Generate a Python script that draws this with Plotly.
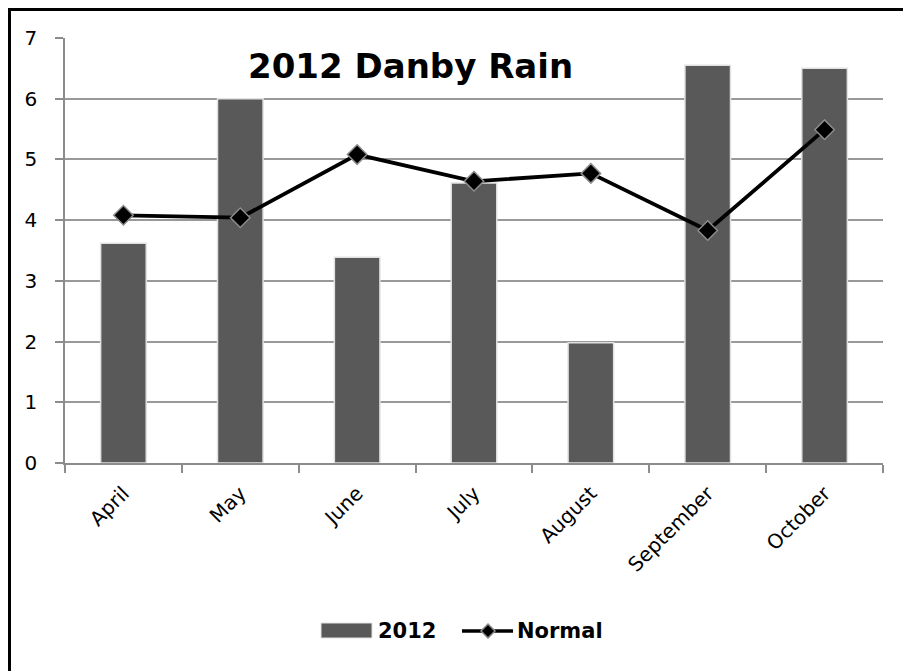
import plotly.graph_objects as go

# Monthly rainfall, inches
months = ["April", "May", "June", "July", "August", "September", "October"]
rain_2012 = [3.62, 6.0, 3.39, 4.61, 1.98, 6.55, 6.50]
rain_normal = [4.08, 4.04, 5.08, 4.64, 4.77, 3.83, 5.49]
y_ticks = [0, 1, 2, 3, 4, 5, 6, 7]

BAR_COLOR = "#595959"
W, H = 903, 671
L, R, T, B = 65, 20, 38, 208
pw, ph = W - L - R, H - T - B


def px_x(p):
    return (p - L) / pw


def px_y(p):
    return (H - B - p) / ph


fig = go.Figure()
fig.add_trace(go.Bar(
    x=months, y=rain_2012, name="2012",
    marker=dict(color=BAR_COLOR, line=dict(color="#e2e2e2", width=1.5)),
))
fig.add_trace(go.Scatter(
    x=months, y=rain_normal, name="Normal", mode="lines+markers",
    line=dict(color="black", width=3.8),
    marker=dict(symbol="diamond", size=15, color="black",
                line=dict(color="#8c8c8c", width=1.5)),
))

# hand-built legend below the plot
leg_y = 631
shapes = [
    dict(type="rect", xref="paper", yref="paper",
         x0=px_x(9.5), x1=px_x(940), y0=px_y(720), y1=px_y(9.5),
         line=dict(color="black", width=3), layer="below"),
    dict(type="rect", xref="paper", yref="paper",
         x0=px_x(321), x1=px_x(372), y0=px_y(638), y1=px_y(623),
         fillcolor=BAR_COLOR, line=dict(color="#e2e2e2", width=1)),
    dict(type="line", xref="paper", yref="paper",
         x0=px_x(462), x1=px_x(513), y0=px_y(leg_y), y1=px_y(leg_y),
         line=dict(color="black", width=3.5)),
]
d = 7
cx = 488
diamond = "M {} {} L {} {} L {} {} L {} {} Z".format(
    px_x(cx), px_y(leg_y - d), px_x(cx + d), px_y(leg_y),
    px_x(cx), px_y(leg_y + d), px_x(cx - d), px_y(leg_y))
shapes.append(dict(type="path", xref="paper", yref="paper", path=diamond,
                   fillcolor="black", line=dict(color="#8c8c8c", width=1.5)))

legend_font = dict(family="DejaVu Sans", size=21, color="black")
annotations = [
    dict(text="<b>2012 Danby Rain</b>", xref="paper", yref="paper",
         x=px_x(410), y=px_y(66), xanchor="center", yanchor="middle",
         showarrow=False, font=dict(family="DejaVu Sans", size=34, color="black")),
    dict(text="<b>2012</b>", xref="paper", yref="paper",
         x=px_x(376), y=px_y(leg_y), xanchor="left", yanchor="middle",
         showarrow=False, font=legend_font),
    dict(text="<b>Normal</b>", xref="paper", yref="paper",
         x=px_x(515), y=px_y(leg_y), xanchor="left", yanchor="middle",
         showarrow=False, font=legend_font),
]

fig.update_layout(
    width=W, height=H,
    margin=dict(l=L, r=R, t=T, b=B),
    paper_bgcolor="white", plot_bgcolor="white",
    bargap=0.61,
    showlegend=False,
    font=dict(family="DejaVu Sans", color="black"),
    shapes=shapes,
    annotations=annotations,
)

fig.update_xaxes(
    type="category", tickson="boundaries", ticks="outside", ticklen=8,
    tickcolor="#8c8c8c", tickwidth=1.5,
    showline=True, linecolor="#8c8c8c", linewidth=1.5,
    tickangle=-45, ticklabelstandoff=9,
    tickfont=dict(family="DejaVu Sans", size=20, color="black"),
    showgrid=False,
)
fig.update_yaxes(
    range=[0, 7], tickvals=y_ticks, ticks="outside", ticklen=8,
    tickcolor="#8c8c8c", tickwidth=1.5,
    showline=True, linecolor="#8c8c8c", linewidth=1.5,
    showgrid=True, gridcolor="#999999", gridwidth=1.5,
    zeroline=False, ticklabelstandoff=14,
    tickfont=dict(family="DejaVu Sans", size=20, color="black"),
)

fig.write_html("out.html")
